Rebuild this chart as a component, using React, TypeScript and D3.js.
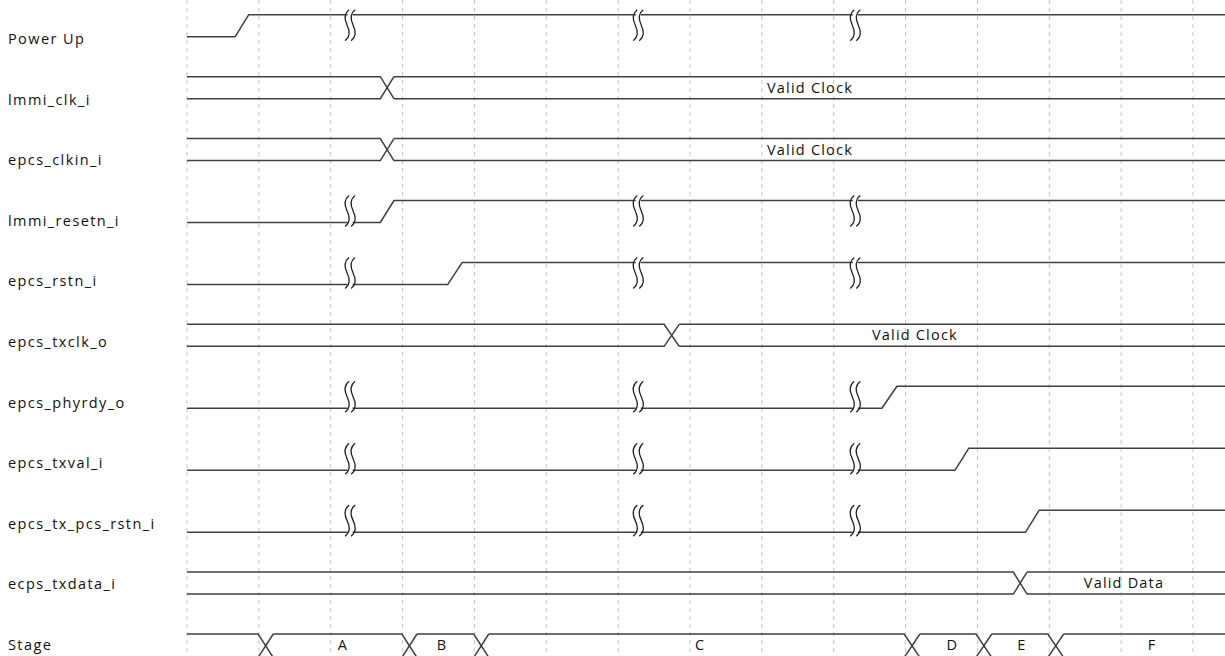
import React from "react";
import * as d3 from "d3";

// ---- data ----
const signalNames = [
  "Power Up",
  "lmmi_clk_i",
  "epcs_clkin_i",
  "lmmi_resetn_i",
  "epcs_rstn_i",
  "epcs_txclk_o",
  "epcs_phyrdy_o",
  "epcs_txval_i",
  "epcs_tx_pcs_rstn_i",
  "ecps_txdata_i",
  "Stage",
];
// "bit" or "bus"
const signalKinds = ["bit", "bus", "bus", "bit", "bit", "bus", "bit", "bit", "bit", "bus", "bus"];
// bit signals: rising edge [start, end] in time units (grid columns)
const risingEdges: (number[] | null)[] = [
  [0.67, 0.86],
  null,
  null,
  [2.69, 2.88],
  [3.63, 3.83],
  null,
  [9.67, 9.88],
  [10.69, 10.88],
  [11.67, 11.86],
  null,
  null,
];
// bus signals: crossings [start, end]
const busCrossings: number[][][] = [
  [],
  [[2.69, 2.88]],
  [[2.69, 2.88]],
  [],
  [],
  [[6.64, 6.85]],
  [],
  [],
  [],
  [[11.5, 11.69]],
  [[0.99, 1.2], [2.99, 3.2], [3.99, 4.2], [9.98, 10.2], [10.98, 11.2], [11.98, 12.2]],
];
// bus labels [time, text]
const busLabels: [number, string][][] = [
  [],
  [[8.67, "Valid Clock"]],
  [[8.67, "Valid Clock"]],
  [],
  [],
  [[10.13, "Valid Clock"]],
  [],
  [],
  [],
  [[13.04, "Valid Data"]],
  [[2.17, "A"], [3.55, "B"], [7.14, "C"], [10.65, "D"], [11.62, "E"], [13.43, "F"]],
];
// time breaks (squiggles)
const breakTimes = [2.27, 6.28, 9.3];
const signalsWithBreaks = [0, 3, 4, 6, 7, 8];
const gridTicks = d3.range(0, 15);

const W = 1225;
const H = 656;

export default function App() {
  const x = d3.scaleLinear().domain([0, 14]).range([187, 1193]);
  const tEnd = x.invert(W + 2);
  const yHigh = d3.scaleLinear().domain([0, 10]).range([14.7, 634]);
  const labelY = d3.scaleLinear().domain([0, 10]).range([44, 650]);
  const stroke = "#404040";
  const sw = 1.5;
  const font = "'Open Sans', sans-serif";

  const elems: React.ReactNode[] = [];

  signalNames.forEach((name, i) => {
    const top = yHigh(i);
    const rowH = i === signalNames.length - 1 ? 23.5 : 22;
    const bot = top + rowH;
    elems.push(
      <text key={`lab${i}`} x={8} y={labelY(i)} fontFamily={font} fontSize={14.5} letterSpacing={1.4} fill="#111">
        {name}
      </text>
    );
    if (signalKinds[i] === "bit") {
      const e = risingEdges[i]!;
      const pts: [number, number][] = [
        [x(0), bot],
        [x(e[0]), bot],
        [x(e[1]), top],
        [x(tEnd), top],
      ];
      elems.push(
        <path key={`w${i}`} d={d3.line()(pts)!} fill="none" stroke={stroke} strokeWidth={sw} strokeLinejoin="round" />
      );
    } else {
      const cr = busCrossings[i];
      const segs: string[] = [];
      let prevTop: [number, number][] = [[x(0), top]];
      let prevBot: [number, number][] = [[x(0), bot]];
      cr.forEach((c) => {
        prevTop.push([x(c[0]), top]);
        prevTop.push([x(c[1]), bot]);
        prevBot.push([x(c[0]), bot]);
        prevBot.push([x(c[1]), top]);
        segs.push(d3.line()(prevTop)!);
        segs.push(d3.line()(prevBot)!);
        prevTop = [[x(c[1]), top]];
        prevBot = [[x(c[1]), bot]];
      });
      prevTop.push([x(tEnd), top]);
      prevBot.push([x(tEnd), bot]);
      segs.push(d3.line()(prevTop)!);
      segs.push(d3.line()(prevBot)!);
      segs.forEach((d, k) =>
        elems.push(<path key={`b${i}-${k}`} d={d} fill="none" stroke={stroke} strokeWidth={sw} />)
      );
      const ty = i === signalNames.length - 1 ? top + 16 : (top + bot) / 2 + 5;
      busLabels[i].forEach(([t, txt], k) =>
        elems.push(
          <text
            key={`bl${i}-${k}`}
            x={x(t)}
            y={ty}
            textAnchor="middle"
            fontFamily={font}
            fontSize={14.5}
            letterSpacing={1.2}
            fill="#111"
          >
            {txt}
          </text>
        )
      );
    }
    if (signalsWithBreaks.includes(i)) {
      breakTimes.forEach((bt, k) => {
        const cx = x(bt);
        const y0 = top - 5;
        const h = bot + 4 - y0;
        const lineY = risingEdges[i] && x(risingEdges[i]![1]) < cx ? top : bot;
        elems.push(
          <rect key={`gap${i}-${k}`} x={cx - 2.5} y={lineY - 2} width={5} height={4} fill="#fff" />
        );
        [-3, 3].forEach((dx, m) => {
          const c = cx + dx;
          const d = `M${c + 2},${y0} C${c - 3},${y0 + h * 0.12} ${c - 3},${y0 + h * 0.3} ${c},${y0 + h * 0.5} C${c + 3},${y0 + h * 0.7} ${c + 3},${y0 + h * 0.88} ${c - 2},${y0 + h}`;
          elems.push(<path key={`sq${i}-${k}-${m}`} d={d} fill="none" stroke="#222" strokeWidth={1.3} />);
        });
      });
    }
  });

  return (
    <svg
      width={W}
      height={H}
      style={{ position: "absolute", left: 0, top: 0, display: "block", background: "#fff" }}
    >
      <rect width={W} height={H} fill="#fff" />
      {gridTicks.map((t) => (
        <line
          key={`g${t}`}
          x1={x(t)}
          x2={x(t)}
          y1={0}
          y2={H}
          stroke="#c4c4c4"
          strokeWidth={1}
          strokeDasharray="4,4"
        />
      ))}
      {elems}
    </svg>
  );
}
